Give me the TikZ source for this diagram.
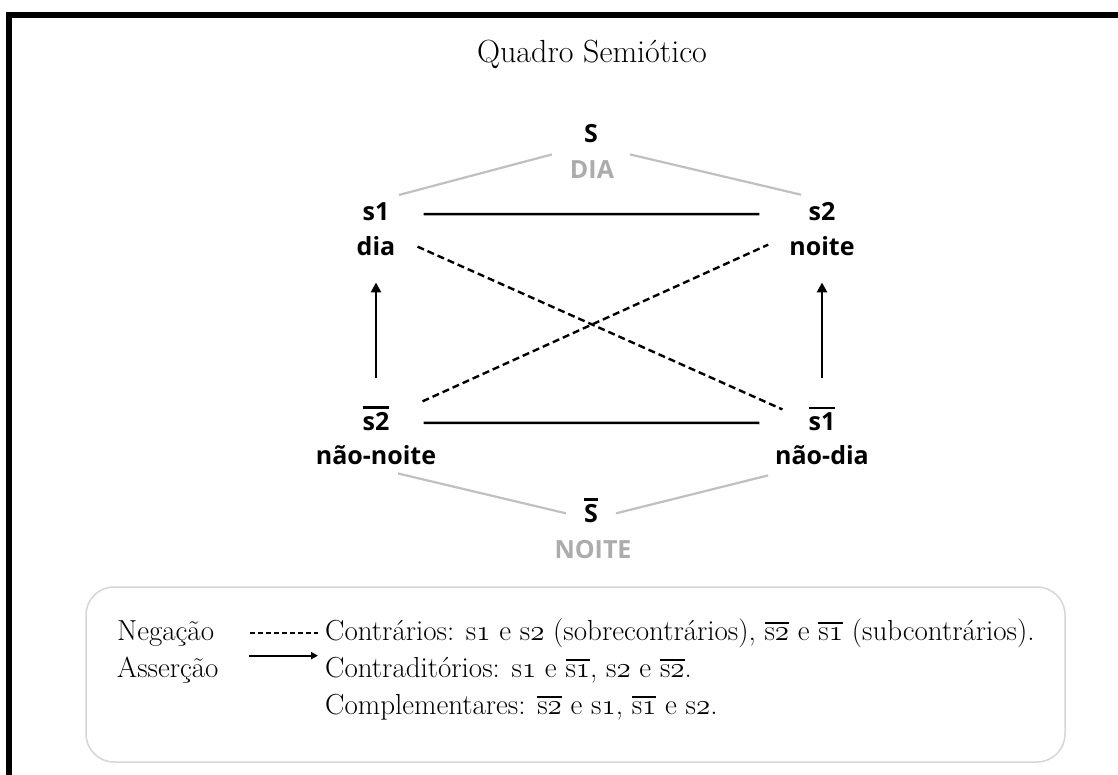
\documentclass[tikz,border=0pt]{standalone}
\usepackage{fix-cm}
\usepackage{fontspec}
\newfontfamily\termfont{Open Sans}
\usepackage{tikz}
\usetikzlibrary{
  arrows.meta,
  positioning
}
\definecolor{LinkGray}{RGB}{192,192,192}
\definecolor{TermGray}{RGB}{172,172,172}
\definecolor{BoxGray}{RGB}{214,214,214}
\newcommand\barred[2][.1em]{\vbox{\hrule height #1\kern .12em\hbox{#2}}}
\newcommand\osn[1]{\(\mathnormal{#1}\)}
\tikzset{
  term/.style={anchor=base,inner sep=0pt,font=\termfont\bfseries\fontsize{25}{30}\selectfont},
  termgray/.style={term,text=TermGray},
  titlenode/.style={anchor=base,inner sep=0pt,font=\fontsize{32}{38}\selectfont},
  legendlabel/.style={anchor=base west,inner sep=0pt,font=\fontsize{29}{34}\selectfont},
  opposed/.style={line width=2.6pt},
  contrary/.style={line width=2.4pt,dash pattern=on 7pt off 4pt},
  implies/.style={-{Triangle[length=10pt,width=10pt]},line width=2.6pt},
  hyper/.style={draw=LinkGray,line width=2.2pt},
  legendneg/.style={line width=1.8pt,dash pattern=on 5pt off 3pt},
  legendass/.style={-{Triangle[length=7pt,width=7pt]},line width=1.8pt}
}
\begin{document}
\begin{tikzpicture}[x=1pt,y=-1pt]
\useasboundingbox (0,0) rectangle (1118,775);
\fill[white] (0,0) rectangle (1118,775);
% Frame (top and left edges only).
\fill[black] (6,12) rectangle (1118,18);
\fill[black] (6,12) rectangle (12,775);

\node[titlenode] (title) at (592,63) {Quadro Semiótico};

% Terms of the square.
\node[term] (S) at (591,143) {S};
\node[termgray] (DIA) at (592,179) {DIA};
\node[term] (s1) at (376,221) {s1};
\node[term] (dia) at (376,256) {dia};
\node[term] (s2) at (822,221) {s2};
\node[term] (noite) at (822,256) {noite};
\node[term] (ns2) at (376,430) {\barred{s2}};
\node[term] (naonoite) at (376,464) {não-noite};
\node[term] (ns1) at (822,430) {\barred{s1}};
\node[term] (naodia) at (822,464) {não-dia};
\node[term] (nS) at (591,522) {\barred{S}};
\node[termgray] (NOITE) at (593,558) {NOITE};

% Axes of contraries.
\draw[opposed] ([xshift=34pt,yshift=-2pt]s1.east) -- ([xshift=-49pt,yshift=-2pt]s2.west);
\draw[opposed] ([xshift=34pt,yshift=-4.5pt]ns2.east) -- ([xshift=-49pt,yshift=-4.5pt]ns1.west);

% Contradictions.
\draw[contrary] ([xshift=22pt]dia.east) -- ([xshift=-26pt,yshift=9pt]ns1.west);
\draw[contrary] ([xshift=33pt,yshift=17pt]ns2.east) -- ([xshift=-21pt,yshift=2pt]noite.west);

% Implications.
\draw[implies] ([yshift=28pt]ns2.north) -- ([yshift=-26pt]dia.south);
\draw[implies] ([yshift=28pt]ns1.north) -- ([yshift=-26pt]noite.south);

% Meta-terms.
\draw[hyper] ([xshift=23pt,yshift=8pt]s1.north) -- ([xshift=-32pt,yshift=-11pt]S.south west);
\draw[hyper] ([xshift=32pt,yshift=-11pt]S.south east) -- ([xshift=-21pt,yshift=8pt]s2.north);
\draw[hyper] ([xshift=22pt,yshift=-9pt]naonoite.south) -- ([xshift=-18pt,yshift=-3pt]nS.west);
\draw[hyper] ([xshift=18pt,yshift=-3pt]nS.east) -- ([xshift=-54pt,yshift=-11pt]naodia.south);

% Legend.
\draw[BoxGray,line width=1.5pt,rounded corners=28pt] (86,587) rectangle (1065,762);
\node[legendlabel] (neg) at (117,640) {Negação};
\node[legendlabel] (ass) at (117,677) {Asserção};
\node[legendlabel] (contr) at (325,640) {Contrários: s\osn1 e s\osn2 (sobrecontrários), \barred[.06em]{s\osn2} e \barred[.06em]{s\osn1} (subcontrários).};
\node[legendlabel] (contrad) at (325,677) {Contraditórios: s\osn1 e \barred[.06em]{s\osn1}, s\osn2 e \barred[.06em]{s\osn2}.};
\node[legendlabel] (compl) at (325,714) {Complementares: \barred[.06em]{s\osn2} e s\osn1, \barred[.06em]{s\osn1} e s\osn2.};
\coordinate (negend) at ([xshift=-7pt]contr.west);
\coordinate (assend) at ([xshift=-7pt,yshift=14pt]contrad.west);
\draw[legendneg] ([xshift=36pt]neg.east |- negend) -- (negend);
\draw[legendass] ([xshift=30pt]ass.east |- assend) -- (assend);
\end{tikzpicture}
\end{document}
